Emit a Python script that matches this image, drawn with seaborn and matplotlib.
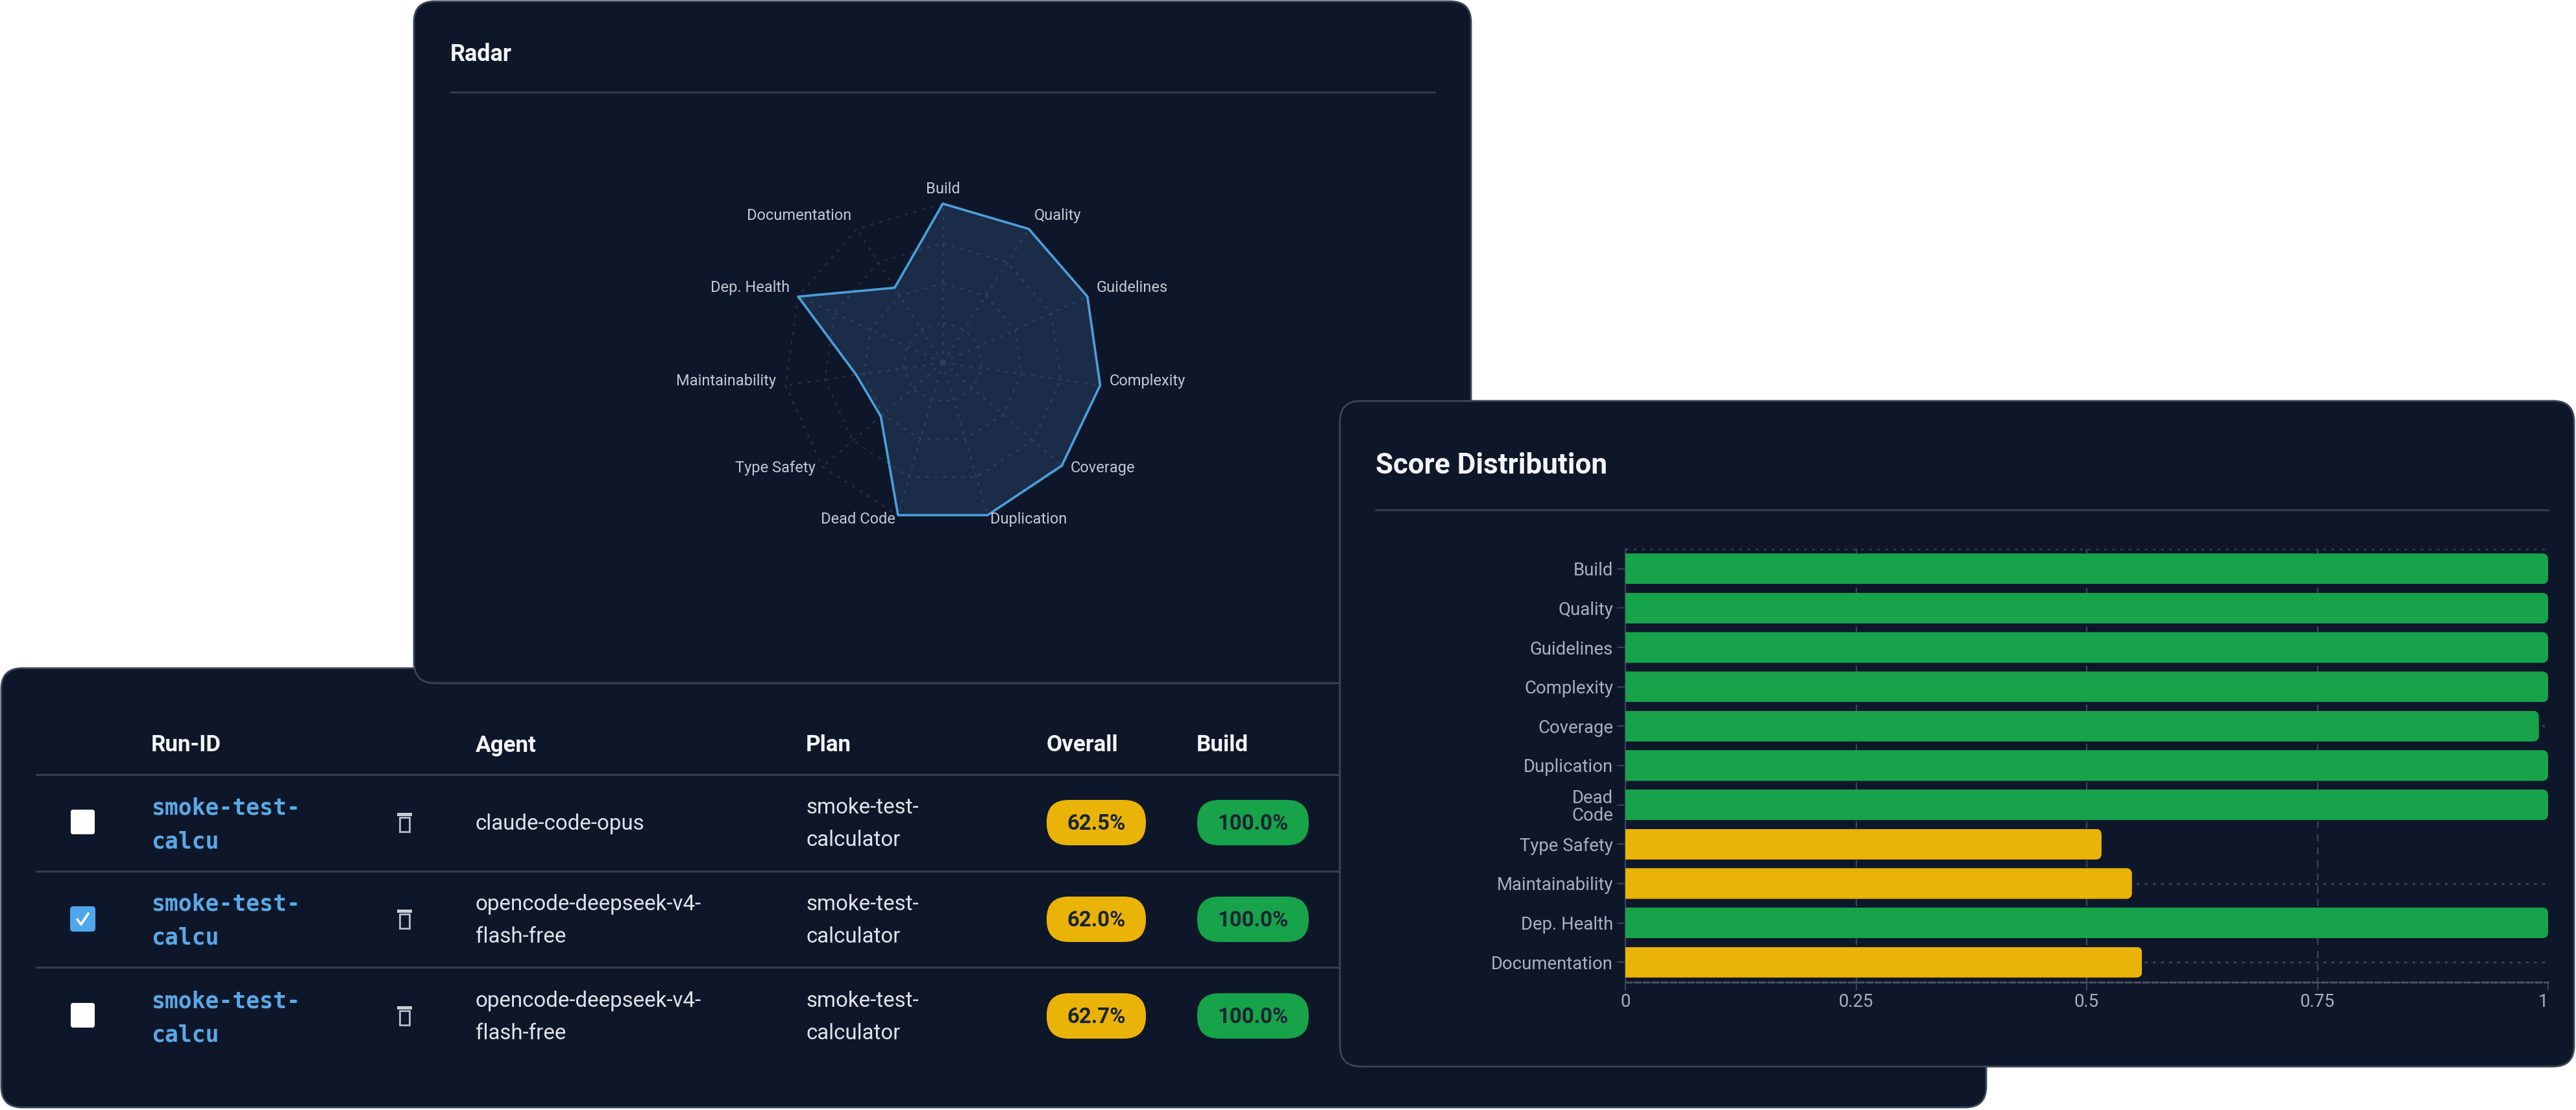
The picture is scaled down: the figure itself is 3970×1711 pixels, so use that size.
import numpy as np
import pandas as pd
import matplotlib
matplotlib.use("Agg")
import matplotlib.pyplot as plt
from matplotlib.patches import FancyBboxPatch, Rectangle
from matplotlib.transforms import IdentityTransform
import seaborn as sns

# Scores per quality dimension
dimensions = ["Build", "Quality", "Guidelines", "Complexity", "Coverage", "Duplication",
              "Dead Code", "Type Safety", "Maintainability", "Dep. Health", "Documentation"]
scores = [1.0, 1.0, 1.0, 1.0, 0.99, 1.0, 1.0, 0.516, 0.549, 1.0, 0.56]
tiers = ["high", "high", "high", "high", "high", "high", "high", "mid", "mid", "high", "mid"]

# Run table
run_ids = ["smoke-test-\ncalcu", "smoke-test-\ncalcu", "smoke-test-\ncalcu"]
agents = ["claude-code-opus", "opencode-deepseek-v4-\nflash-free", "opencode-deepseek-v4-\nflash-free"]
plans = ["smoke-test-\ncalculator", "smoke-test-\ncalculator", "smoke-test-\ncalculator"]
overall = [62.5, 62.0, 62.7]
build = [100.0, 100.0, 100.0]
selected = [False, True, False]
headers = ["Run-ID", "Agent", "Plan", "Overall", "Build"]
x_tick_values = [0, 0.25, 0.5, 0.75, 1]
x_tick_labels = ["0", "0.25", "0.5", "0.75", "1"]

W, H = 3970, 1711
PANEL = "#0e1729"
EDGE = "#3a4558"
RULE = "#333e50"
GREEN = "#16a34a"
YELLOW = "#eab308"
BLUE = "#5aa9e6"
WHITE = "#f3f5f8"
BODY = "#dfe3e9"
MUTED = "#a9b0bc"
FONT = "Roboto"


def pt(px):
    return px * 0.72


sns.set_theme(style="dark")
plt.rcParams["font.family"] = [FONT, "DejaVu Sans"]
fig = plt.figure(figsize=(W / 100, H / 100), dpi=100, facecolor="white")


def px_axes(x0, y0, x1, y1, **kw):
    return fig.add_axes([x0 / W, 1 - y1 / H, (x1 - x0) / W, (y1 - y0) / H], **kw)


def layer(z):
    ax = px_axes(0, 0, W, H, zorder=z)
    ax.set_xlim(0, W)
    ax.set_ylim(H, 0)
    ax.axis("off")
    return ax


def round_box(ax, x0, y0, x1, y1, r, fc, ec="none", lw=0, z=1):
    ax.add_patch(FancyBboxPatch((x0, y0), x1 - x0, y1 - y0,
                                boxstyle=f"round,pad=0,rounding_size={r}",
                                fc=fc, ec=ec, lw=lw, zorder=z))


# ---- Run table (bottom layer) ----
tb = layer(0)
round_box(tb, 2, 1030, 3061, 1707, 32, PANEL, EDGE, 2)
header_x = [233, 733, 1242, 1613, 1844]
for name, x in zip(headers, header_x):
    tb.text(x, 1149, name, color=WHITE, fontsize=pt(35), fontweight="bold", ha="left", va="center")
for y in [1194, 1342.5, 1491]:
    tb.plot([56, 3020], [y, y], color=RULE, lw=2.2, zorder=2)

row_mid = [1270, 1419, 1568]
for i, mid in enumerate(row_mid):
    # selection box
    if selected[i]:
        round_box(tb, 108, mid - 22, 147, mid + 17, 5, "#4ea6ec")
        tb.plot([119, 125, 136], [mid - 2, mid + 6, mid - 11], color="white", lw=2.6, zorder=3)
    else:
        round_box(tb, 109, mid - 22, 146, mid + 16, 4, "white")
    # delete icon
    tb.add_patch(Rectangle((612, mid - 17), 23, 5, fc="#c9ced6", ec="none", zorder=3))
    tb.add_patch(Rectangle((616, mid - 10), 15, 22, fc="none", ec="#b8bec9", lw=2, zorder=3))
    # run id, agent, plan
    tb.text(233, mid - 25, run_ids[i].split("\n")[0], color=BLUE, fontsize=pt(34.6), fontweight="bold",
            family="DejaVu Sans Mono", ha="left", va="center")
    tb.text(233, mid + 27, run_ids[i].split("\n")[1], color=BLUE, fontsize=pt(34.6), fontweight="bold",
            family="DejaVu Sans Mono", ha="left", va="center")
    agent_lines = agents[i].split("\n")
    if len(agent_lines) == 1:
        tb.text(733, mid, agent_lines[0], color=BODY, fontsize=pt(33), ha="left", va="center")
    else:
        tb.text(733, mid - 25, agent_lines[0], color=BODY, fontsize=pt(33), ha="left", va="center")
        tb.text(733, mid + 25, agent_lines[1], color=BODY, fontsize=pt(33), ha="left", va="center")
    plan_lines = plans[i].split("\n")
    tb.text(1242, mid - 25, plan_lines[0], color=BODY, fontsize=pt(33), ha="left", va="center")
    tb.text(1242, mid + 25, plan_lines[1], color=BODY, fontsize=pt(33), ha="left", va="center")
    # score pills
    round_box(tb, 1613, mid - 37, 1766, mid + 33, 34, YELLOW, z=3)
    tb.text(1689.5, mid, f"{overall[i]:.1f}%", color="#1b2434", fontsize=pt(33), fontweight="bold",
            ha="center", va="center", zorder=4)
    round_box(tb, 1845, mid - 37, 2017, mid + 33, 34, GREEN, z=3)
    tb.text(1931, mid, f"{build[i]:.1f}%", color="#1b2434", fontsize=pt(33), fontweight="bold",
            ha="center", va="center", zorder=4)

# ---- Radar card ----
rc = layer(1)
round_box(rc, 638, 2, 2267, 1053, 32, PANEL, EDGE, 2)
rc.text(694, 84, "Radar", color=WHITE, fontsize=pt(36), fontweight="bold", ha="left", va="center")
rc.plot([694, 2211], [142, 142], color=RULE, lw=2.2)

polar = px_axes(1453 - 245, 559 - 245, 1453 + 245, 559 + 245, projection="polar", zorder=2)
polar.set_facecolor("none")
polar.set_theta_zero_location("N")
polar.set_theta_direction(-1)
polar.set_ylim(0, 1)
polar.grid(False)
polar.set_xticks([])
polar.set_yticks([])
polar.spines["polar"].set_visible(False)

theta = np.arange(len(dimensions)) * 2 * np.pi / len(dimensions)
closed_theta = np.append(theta, theta[0])
closed_scores = np.append(scores, scores[0])
GRID = "#252e40"
for level in [0.25, 0.5, 0.75, 1.0]:
    polar.plot(closed_theta, np.full(len(closed_theta), level), color=GRID, lw=1.8,
               ls=(0, (2, 3.5)), zorder=1, clip_on=False)
for t in theta:
    polar.plot([t, t], [0, 1], color=GRID, lw=1.8, ls=(0, (2, 3.5)), zorder=1, clip_on=False)

polar.fill(closed_theta, closed_scores, color="#60a5fa", alpha=0.15, lw=0, zorder=2)
radar_df = pd.DataFrame({"theta": closed_theta, "score": closed_scores})
sns.lineplot(data=radar_df, x="theta", y="score", sort=False, estimator=None, color="#4d9fdc",
             lw=2.6, ax=polar, zorder=3, clip_on=False)
polar.set_xlabel("")
polar.set_ylabel("")
polar.set_xticks([])
polar.set_yticks([])

for name, t in zip(dimensions, theta):
    side = np.sin(t)
    ha = "center" if abs(side) < 1e-6 else ("left" if side > 0 else "right")
    polar.annotate(name, xy=(t, 1.06), xytext=(0, pt(8)), textcoords="offset points",
                   color="#c3c8d1", fontsize=pt(23.6), ha=ha, va="center", annotation_clip=False)

# ---- Score distribution card ----
bc = layer(3)
round_box(bc, 2065, 618, 3967, 1644, 32, PANEL, EDGE, 2)
bc.text(2120, 718, "Score Distribution", color=WHITE, fontsize=pt(44), fontweight="bold", ha="left", va="center")
bc.plot([2120, 3927], [786, 786], color=RULE, lw=2.2)

bars = px_axes(2505, 846.5, 3927, 1513.5, zorder=4)
bars.set_facecolor("none")
bar_df = pd.DataFrame({"dimension": dimensions, "score": scores, "tier": tiers})
sns.barplot(data=bar_df, y="dimension", x="score", hue="tier", dodge=False, width=0.78,
            palette={"high": GREEN, "mid": YELLOW}, legend=False, saturation=1, linewidth=0,
            ax=bars, zorder=3)
bars.set_xlim(0, 1)
bars.set_ylim(len(dimensions) - 0.5, -0.5)
bars.set_xlabel("")
bars.set_ylabel("")

# Dotted guides through each row, dashed guides at the interior ticks
guide = "#3a4558"
rows_with_guides = [i for i, name in enumerate(dimensions) if name != "Type Safety"]
bars.hlines(rows_with_guides, 0, 1, color=guide, lw=2, ls=(0, (1.5, 3)), zorder=1)
bars.hlines([-0.5], 0, 1, color=guide, lw=2, ls=(0, (1.5, 3)), zorder=1)
bars.vlines([0.25, 0.5, 0.75], -0.5, len(dimensions) - 0.5, color=guide, lw=1.6, ls=(0, (5, 4)), zorder=1)

bars.set_yticks(range(len(dimensions)))
bars.set_yticklabels([n.replace(" ", "\n") if n == "Dead Code" else n for n in dimensions],
                     linespacing=1.0)
bars.set_xticks(x_tick_values)
bars.set_xticklabels(x_tick_labels)
bars.tick_params(axis="y", colors=guide, labelcolor=MUTED, labelsize=pt(27.5), length=pt(13), width=1.4, pad=pt(6),
                 left=True)
bars.tick_params(axis="x", colors=guide, labelcolor=MUTED, labelsize=pt(27.5), length=pt(13), width=1.4, pad=pt(5),
                 bottom=True)
bars.get_xticklabels()[-1].set_ha("right")
for side in ["top", "right"]:
    bars.spines[side].set_visible(False)
bars.spines["left"].set_color(guide)
bars.spines["left"].set_linewidth(1.6)
bars.spines["bottom"].set_color("#465164")
bars.spines["bottom"].set_linewidth(2.2)
bars.spines["bottom"].set_linestyle((0, (3, 1.5)))

# Rounded right ends on every bar
fig.canvas.draw()
for bar in bars.patches:
    if bar.get_width() <= 0:
        continue
    (x0, y0), (x1, y1) = bars.transData.transform(
        [(bar.get_x(), bar.get_y()), (bar.get_x() + bar.get_width(), bar.get_y() + bar.get_height())])
    low, high = sorted([y0, y1])
    shape = FancyBboxPatch((x0 - 30, low), x1 - x0 + 30, high - low,
                           boxstyle="round,pad=0,rounding_size=9", transform=IdentityTransform())
    bar.set_clip_path(shape)

fig.savefig("out.png", dpi=100, facecolor="white")
